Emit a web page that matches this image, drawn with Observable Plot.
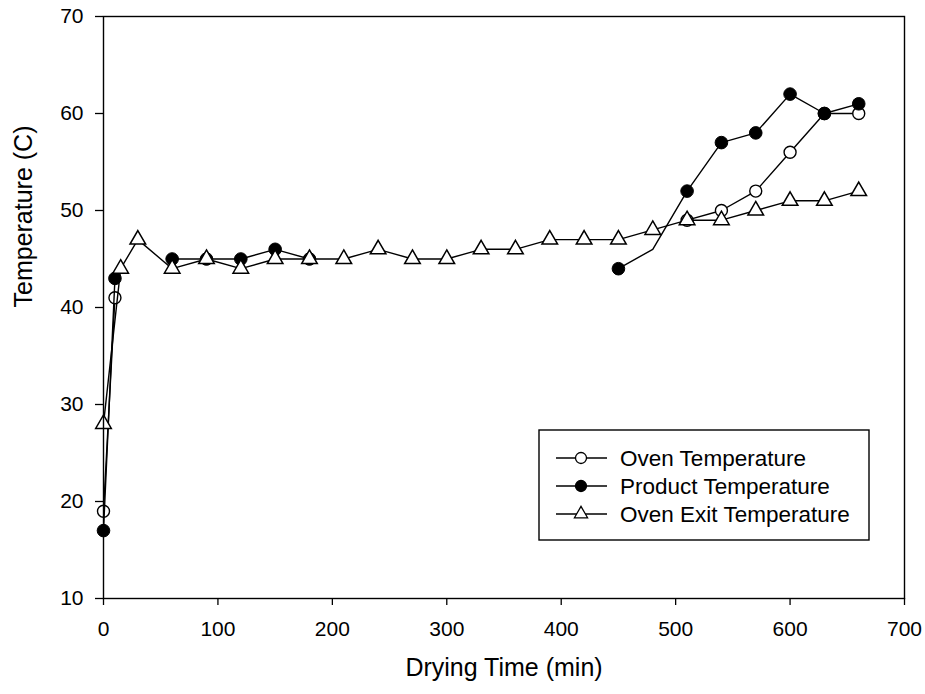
<!DOCTYPE html>
<html>
<head>
<meta charset="utf-8">
<script src="https://cdn.jsdelivr.net/npm/d3@7"></script>
<script src="https://cdn.jsdelivr.net/npm/@observablehq/plot@0.6"></script>
<style>
  html, body { margin: 0; padding: 0; background: white; }
</style>
</head>
<body>
<div id="chart"></div>
<script>
// ---- data ----
const xTicks = [0, 100, 200, 300, 400, 500, 600, 700];
const yTicks = [10, 20, 30, 40, 50, 60, 70];

const seriesNames = ["Oven Temperature", "Product Temperature", "Oven Exit Temperature"];

// Oven temperature (open circles); NaN = not visible in reference (gap)
const ovenTime = [0, 10, 60, 510, 540, 570, 600, 630, 660];
const ovenTemp = [19, 41, NaN, 49, 50, 52, 56, 60, 60];

// Product temperature (filled circles)
const productTime = [0, 10, 30, 60, 90, 120, 150, 180, 210, 450, 480, 510, 540, 570, 600, 630, 660];
const productTemp = [17, 43, NaN, 45, 45, 45, 46, 45, NaN, 44, 46, 52, 57, 58, 62, 60, 61];
const productHiddenMarker = [480];

// Oven exit temperature (open triangles)
const exitTime = [0, 15, 30, 60, 90, 120, 150, 180, 210, 240, 270, 300, 330, 360, 390, 420, 450, 480, 510, 540, 570, 600, 630, 660];
const exitTemp = [28, 44, 47, 44, 45, 44, 45, 45, 45, 46, 45, 45, 46, 46, 47, 47, 47, 48, 49, 49, 50, 51, 51, 52];

// ---- build tables ----
const oven = ovenTime.map((t, i) => ({t, v: ovenTemp[i]}));
const product = productTime.map((t, i) => ({t, v: productTemp[i]}));
const productDots = product.filter(d => !productHiddenMarker.includes(d.t));
const exitT = exitTime.map((t, i) => ({t, v: exitTemp[i]}));

const font = "'Liberation Sans', Arial, Helvetica, sans-serif";

const chart = Plot.plot({
  width: 925,
  height: 694,
  marginLeft: 103,
  marginRight: 21,
  marginTop: 16,
  marginBottom: 96,
  style: {fontFamily: font, fontSize: "21px", background: "white", color: "black", overflow: "visible"},
  x: {domain: [0, 700]},
  y: {domain: [10, 70]},
  marks: [
    Plot.axisX({ticks: xTicks, tickSize: 7, tickPadding: 16, fontSize: 21, label: null, strokeWidth: 1.3}),
    Plot.axisY({ticks: yTicks, tickSize: 8, tickPadding: 12, fontSize: 21, label: null, strokeWidth: 1.3}),
    Plot.text(["Drying Time (min)"], {frameAnchor: "bottom", dy: 77, fontSize: 25, fill: "black"}),
    Plot.text(["Temperature (C)"], {frameAnchor: "left", dx: -80, rotate: -90, fontSize: 25, fill: "black"}),
    // Oven temperature
    Plot.line(oven, {x: "t", y: "v", stroke: "black", strokeWidth: 1.4}),
    Plot.dot(oven, {x: "t", y: "v", r: 6, fill: "white", stroke: "black", strokeWidth: 1.4}),
    // Product temperature
    Plot.line(product, {x: "t", y: "v", stroke: "black", strokeWidth: 1.4}),
    Plot.dot(productDots, {x: "t", y: "v", r: 6.3, fill: "black", stroke: "black", strokeWidth: 1}),
    // Oven exit temperature
    Plot.line(exitT, {x: "t", y: "v", stroke: "black", strokeWidth: 1.4}),
    Plot.dot(exitT, {x: "t", y: "v", symbol: "triangle", r: 5.8, fill: "white", stroke: "black", strokeWidth: 1.5}),
    Plot.frame({stroke: "black", strokeWidth: 1.4})
  ]
});

document.getElementById("chart").appendChild(chart);

// ---- legend (drawn into the same SVG) ----
const svg = d3.select(chart);
const lg = svg.append("g").attr("font-family", font).attr("font-size", 22.5).attr("text-anchor", "start");
const box = {x: 539, y: 430, w: 330, h: 110};
lg.append("rect").attr("x", box.x).attr("y", box.y).attr("width", box.w).attr("height", box.h)
  .attr("fill", "white").attr("stroke", "black").attr("stroke-width", 1.4);
const rowY = [458, 486, 514];
const styles = [
  {kind: "circle", fill: "white"},
  {kind: "circle", fill: "black"},
  {kind: "triangle", fill: "white"}
];
seriesNames.forEach((name, i) => {
  const y = rowY[i];
  lg.append("line").attr("x1", 556).attr("x2", 607).attr("y1", y).attr("y2", y)
    .attr("stroke", "black").attr("stroke-width", 1.4);
  if (styles[i].kind === "circle") {
    lg.append("circle").attr("cx", 581).attr("cy", y).attr("r", 5.5)
      .attr("fill", styles[i].fill).attr("stroke", "black").attr("stroke-width", 1.3);
  } else {
    lg.append("path").attr("transform", `translate(581,${y})`)
      .attr("d", d3.symbol(d3.symbolTriangle, 75)())
      .attr("fill", "white").attr("stroke", "black").attr("stroke-width", 1.3);
  }
  lg.append("text").attr("x", 620).attr("y", y).attr("dy", "0.35em").attr("fill", "black").text(name);
});
</script>
</body>
</html>
